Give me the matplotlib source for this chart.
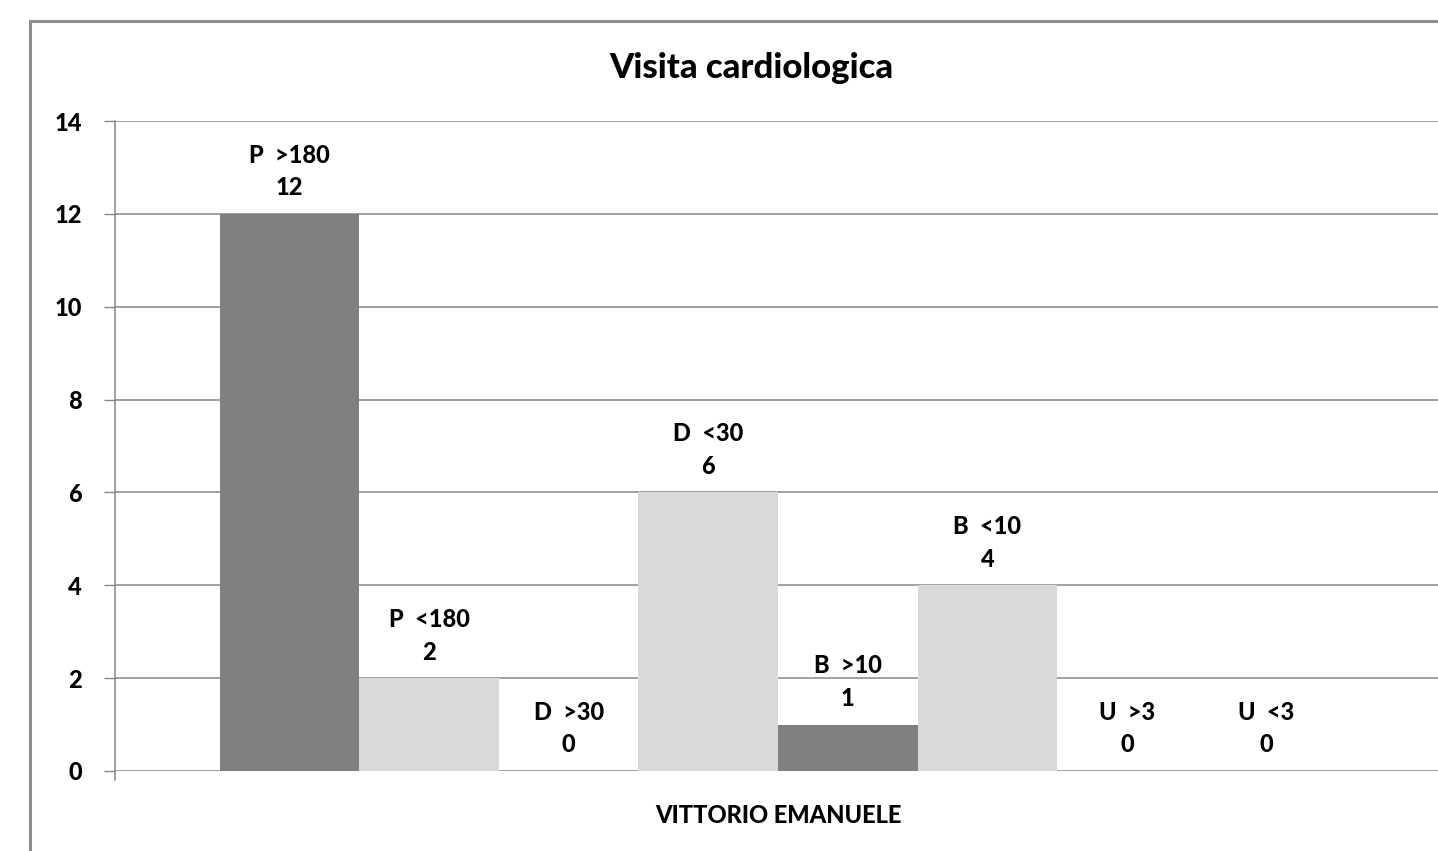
import matplotlib
matplotlib.use("Agg")
import matplotlib.pyplot as plt
from matplotlib.patches import Rectangle

names = ["P  >180", "P  <180", "D  >30", "D  <30", "B  >10", "B  <10", "U  >3", "U  <3"]
values = [12, 2, 0, 6, 1, 4, 0, 0]
colors = ["#808080", "#D9D9D9", "#808080", "#D9D9D9", "#808080", "#D9D9D9", "#808080", "#D9D9D9"]
category = "VITTORIO EMANUELE"
title = "Visita cardiologica"
yticks = [0, 2, 4, 6, 8, 10, 12, 14]

W, H = 1438, 851
fig = plt.figure(figsize=(W / 100, H / 100), dpi=100)
plt.rcParams['font.family'] = ['Lato', 'DejaVu Sans']
FW = "black"

# outer chart border
fig.patches.append(Rectangle((30 / W, -0.1), 1.2, (H - 21) / H + 0.1, transform=fig.transFigure,
                             fill=False, edgecolor="#8C8C8C", linewidth=2.2))

left, right = 115 / W, 1441 / W
bottom, top = 1 - 771 / H, 1 - 121 / H
ax = fig.add_axes([left, bottom, right - left, top - bottom])

n = len(values)
group = 0.842
bw = group / n
xs = [(i - (n - 1) / 2) * bw for i in range(n)]
ax.bar(xs, values, width=bw, color=colors, edgecolor="none", zorder=3)

for x, v, nm in zip(xs, values, names):
    ax.annotate(f"{nm}\n{v}", (x, v), xytext=(0, 10.5), textcoords="offset points",
                ha="center", va="bottom", fontsize=17, fontweight=FW,
                linespacing=1.5, zorder=4)

ax.set_xlim(-0.5, 0.5)
ax.set_ylim(0, 14)
ax.set_yticks(yticks)
ax.set_yticklabels([str(t) for t in yticks], fontsize=17, fontweight=FW)
ax.set_xticks([0])
ax.set_xticklabels([category], fontsize=17, fontweight=FW)
ax.tick_params(axis="x", length=0, pad=24)
ax.tick_params(axis="y", length=8, width=1, color="#868686", pad=16)
ax.grid(axis="y", color="#868686", linewidth=1.1, zorder=0)
for s in ["top", "right", "bottom"]:
    ax.spines[s].set_visible(False)
ax.spines["left"].set_color("#868686")
ax.spines["left"].set_linewidth(1.1)

# small bottom tick at the y axis
ax.plot([-0.5, -0.5], [0, -0.2], color="#868686", lw=1.1, clip_on=False, zorder=2)

fig.text(751 / W, 1 - 68 / H, title, ha="center", va="center", fontsize=25, fontweight=FW)

fig.savefig("out.png", dpi=100)
